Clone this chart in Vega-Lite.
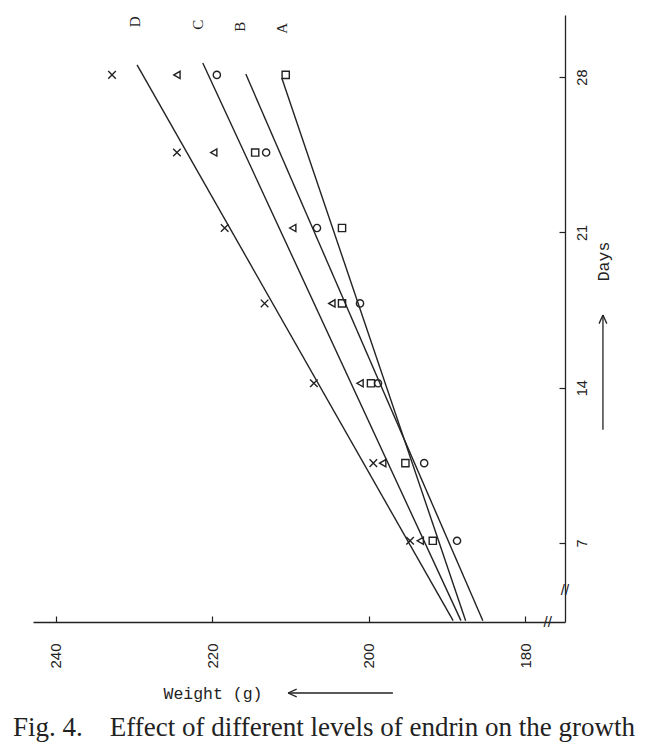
{
  "$schema": "https://vega.github.io/schema/vega-lite/v6.json",
  "autosize": "none",
  "width": 532,
  "height": 607,
  "padding": {"left": 33, "top": 15, "right": 85, "bottom": 130},
  "background": "white",
  "config": {"view": {"stroke": null}},
  "title": {
    "text": "Fig. 4.\u00a0\u00a0\u00a0\u00a0Effect of different levels of endrin on the growth",
    "orient": "bottom",
    "anchor": "start",
    "frame": "group",
    "font": "Liberation Serif",
    "fontSize": 27,
    "fontWeight": "normal",
    "color": "#222",
    "offset": 13,
    "dx": -20
  },
  "datasets": {
    "points": [
      {"group": "D", "day": 7.1, "weight": 194.7},
      {"group": "D", "day": 10.6, "weight": 199.4},
      {"group": "D", "day": 14.2, "weight": 207.0},
      {"group": "D", "day": 17.8, "weight": 213.3},
      {"group": "D", "day": 21.2, "weight": 218.4},
      {"group": "D", "day": 24.6, "weight": 224.5},
      {"group": "D", "day": 28.1, "weight": 232.8},
      {"group": "C", "day": 7.1, "weight": 193.4},
      {"group": "C", "day": 10.6, "weight": 198.2},
      {"group": "C", "day": 14.2, "weight": 201.1},
      {"group": "C", "day": 17.8, "weight": 204.7},
      {"group": "C", "day": 21.2, "weight": 209.7},
      {"group": "C", "day": 24.6, "weight": 219.8},
      {"group": "C", "day": 28.1, "weight": 224.5},
      {"group": "B", "day": 7.1, "weight": 188.7},
      {"group": "B", "day": 10.6, "weight": 192.9},
      {"group": "B", "day": 14.2, "weight": 198.8},
      {"group": "B", "day": 17.8, "weight": 201.1},
      {"group": "B", "day": 21.2, "weight": 206.6},
      {"group": "B", "day": 24.6, "weight": 213.1},
      {"group": "B", "day": 28.1, "weight": 219.4},
      {"group": "A", "day": 7.1, "weight": 191.8},
      {"group": "A", "day": 10.6, "weight": 195.3},
      {"group": "A", "day": 14.2, "weight": 199.7},
      {"group": "A", "day": 17.8, "weight": 203.4},
      {"group": "A", "day": 21.2, "weight": 203.4},
      {"group": "A", "day": 24.6, "weight": 214.5},
      {"group": "A", "day": 28.1, "weight": 210.6}
    ],
    "lines": [
      {"group": "D", "day": 3.5, "weight": 189.2},
      {"group": "D", "day": 28.55, "weight": 229.6},
      {"group": "C", "day": 3.5, "weight": 188.2},
      {"group": "C", "day": 28.64, "weight": 221.2},
      {"group": "B", "day": 3.5, "weight": 185.4},
      {"group": "B", "day": 28.14, "weight": 215.7},
      {"group": "A", "day": 3.5, "weight": 187.6},
      {"group": "A", "day": 27.96, "weight": 211.1}
    ],
    "labels": [
      {"label": "D", "day": 30.49, "weight": 229.9},
      {"label": "C", "day": 30.36, "weight": 221.8},
      {"label": "B", "day": 30.27, "weight": 216.4},
      {"label": "A", "day": 30.2, "weight": 211.1}
    ],
    "breaks": [
      {"mark": "//", "day": 3.44, "weight": 177.1},
      {"mark": "//", "day": 4.9, "weight": 174.9}
    ],
    "arrows": [
      {"arrow": "weight", "part": "tail", "day": 0.24, "weight": 196.9},
      {"arrow": "weight", "part": "head", "day": 0.24, "weight": 210.3},
      {"arrow": "days", "part": "tail", "day": 12.1, "weight": 170.05},
      {"arrow": "days", "part": "head", "day": 17.28, "weight": 170.05}
    ]
  },
  "encoding": {
    "x": {
      "field": "weight",
      "type": "quantitative",
      "scale": {"domain": [174.9, 242.9], "reverse": true, "nice": false, "zero": false},
      "axis": {
        "orient": "bottom",
        "values": [180, 200, 220, 240],
        "grid": false,
        "domainColor": "#222",
        "domainWidth": 1.3,
        "tickColor": "#222",
        "tickWidth": 1.2,
        "tickSize": -6,
        "labelAngle": -90,
        "labelFont": "Liberation Sans",
        "labelFontSize": 15,
        "labelColor": "#222",
        "labelPadding": 27,
        "title": "Weight (g)",
        "titleFont": "Liberation Mono",
        "titleFontSize": 16.5,
        "titleFontWeight": "normal",
        "titleColor": "#222",
        "titleAngle": 0,
        "titleAlign": "left",
        "titleBaseline": "middle",
        "titleX": 130,
        "titleY": 71
      }
    },
    "y": {
      "field": "day",
      "type": "quantitative",
      "scale": {"domain": [3.44, 30.8], "nice": false, "zero": false},
      "axis": {
        "orient": "right",
        "values": [7, 14, 21, 28],
        "grid": false,
        "domainColor": "#222",
        "domainWidth": 1.3,
        "tickColor": "#222",
        "tickWidth": 1.2,
        "tickSize": -6,
        "labelAngle": -90,
        "labelAlign": "center",
        "labelBaseline": "top",
        "labelFont": "Liberation Sans",
        "labelFontSize": 14.5,
        "labelColor": "#222",
        "labelPadding": 16,
        "title": "Days",
        "titleFont": "Liberation Mono",
        "titleFontSize": 16.5,
        "titleFontWeight": "normal",
        "titleColor": "#222",
        "titleAngle": 270,
        "titleAlign": "center",
        "titleBaseline": "middle",
        "titleX": 38,
        "titleY": 246
      }
    }
  },
  "layer": [
    {
      "data": {"name": "lines"},
      "mark": {"type": "line", "color": "#222", "strokeWidth": 1.4},
      "encoding": {"detail": {"field": "group"}}
    },
    {
      "data": {"name": "points"},
      "mark": {"type": "point", "filled": false, "color": "#222", "strokeWidth": 1.4, "size": 52, "opacity": 1},
      "encoding": {
        "shape": {
          "field": "group",
          "type": "nominal",
          "scale": {
            "domain": ["D", "C", "B", "A"],
            "range": ["M-1.05,-1.05L1.05,1.05M-1.05,1.05L1.05,-1.05", "triangle-left", "circle", "square"]
          },
          "legend": null
        }
      }
    },
    {
      "data": {"name": "labels"},
      "mark": {"type": "text", "font": "Liberation Serif", "fontSize": 15, "angle": 270, "color": "#222", "align": "center", "baseline": "middle"},
      "encoding": {"text": {"field": "label"}}
    },
    {
      "data": {"name": "breaks"},
      "mark": {"type": "text", "font": "Liberation Sans", "fontSize": 15, "color": "#222", "align": "center", "baseline": "middle"},
      "encoding": {"text": {"field": "mark"}}
    },
    {
      "data": {"name": "arrows"},
      "mark": {"type": "line", "color": "#222", "strokeWidth": 1.3},
      "encoding": {"detail": {"field": "arrow"}}
    },
    {
      "data": {"name": "arrows"},
      "transform": [{"filter": "datum.part == 'head' && datum.arrow == 'weight'"}],
      "mark": {"type": "point", "shape": "M0,0L1,-0.45M0,0L1,0.45", "size": 300, "filled": false, "color": "#222", "strokeWidth": 1.3, "opacity": 1}
    },
    {
      "data": {"name": "arrows"},
      "transform": [{"filter": "datum.part == 'head' && datum.arrow == 'days'"}],
      "mark": {"type": "point", "shape": "M0,0L-0.45,1M0,0L0.45,1", "size": 300, "filled": false, "color": "#222", "strokeWidth": 1.3, "opacity": 1}
    }
  ]
}
